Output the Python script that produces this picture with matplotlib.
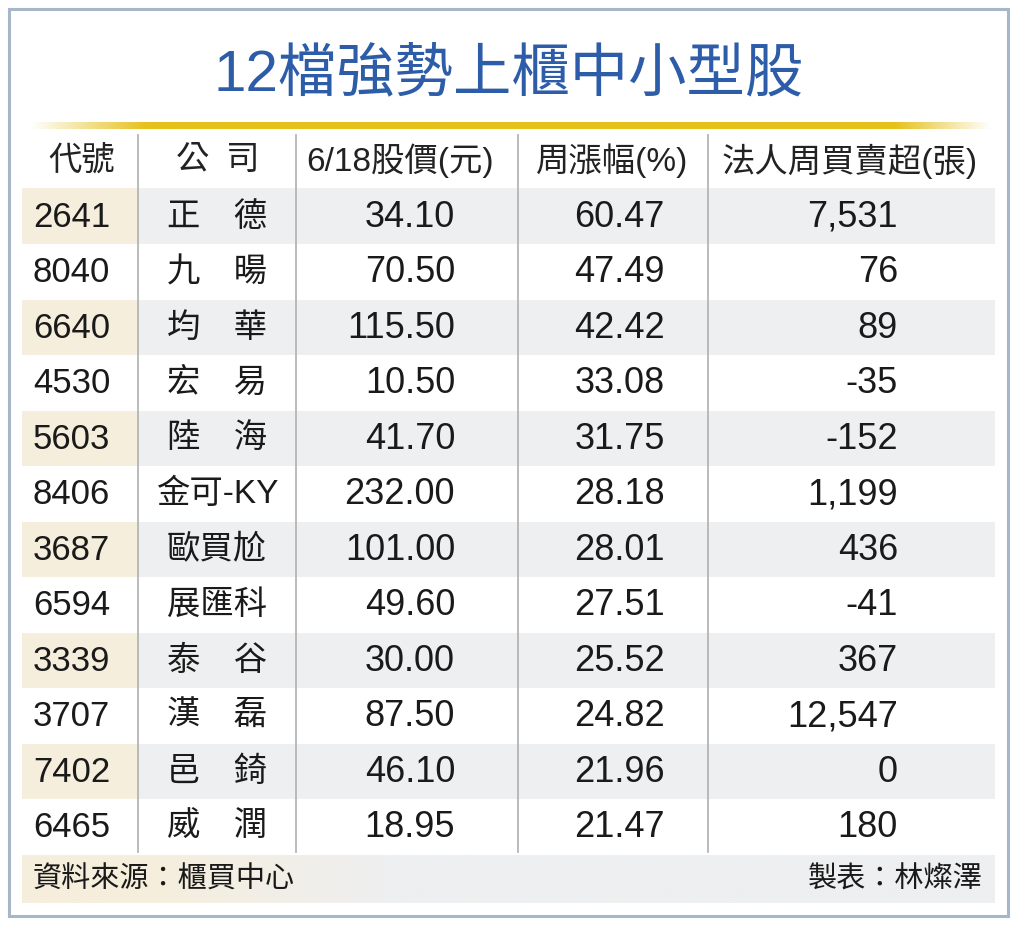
import numpy as np
import matplotlib
matplotlib.use('Agg')
import matplotlib.pyplot as plt
from matplotlib.patches import Rectangle
from matplotlib.colors import to_rgb

plt.rcParams['font.family'] = ['Liberation Sans', 'Noto Sans CJK TC', 'DejaVu Sans']

title = '12檔強勢上櫃中小型股'
headers = ['代號', '公\u2002司', '6/18股價(元)', '周漲幅(%)', '法人周買賣超(張)']
codes = ['2641', '8040', '6640', '4530', '5603', '8406',
         '3687', '6594', '3339', '3707', '7402', '6465']
names = ['正德', '九暘', '均華', '宏易', '陸海', '金可-KY',
         '歐買尬', '展匯科', '泰谷', '漢磊', '邑錡', '威潤']
prices = [34.10, 70.50, 115.50, 10.50, 41.70, 232.00,
          101.00, 49.60, 30.00, 87.50, 46.10, 18.95]
pct = [60.47, 47.49, 42.42, 33.08, 31.75, 28.18,
       28.01, 27.51, 25.52, 24.82, 21.96, 21.47]
net = [7531, 76, 89, -35, -152, 1199, 436, -41, 367, 12547, 0, 180]
source = '資料來源：櫃買中心'
maker = '製表：林燦澤'

W, H = 1024, 930
fig = plt.figure(figsize=(W / 100, H / 100), dpi=100)
ax = fig.add_axes([0, 0, 1, 1])

# outer frame
ax.add_patch(Rectangle((9, 9), 999, 907, fill=False, ec='#a8b6ca', lw=2.2))

ax.text(509, 75, title, ha='center', va='center', fontsize=42,
        color='#2d5ca8', fontweight='medium')

# gold rule that fades at both ends
gx = np.linspace(0, 1, 400)
alpha = np.clip(np.minimum(gx / 0.12, (1 - gx) / 0.1), 0, 1)
grad = np.zeros((1, 400, 4))
grad[..., :3] = to_rgb('#e6c11c')
grad[..., 3] = alpha
ax.imshow(grad, extent=(30, 992, 129, 122), aspect='auto', interpolation='bilinear', zorder=2)

left, right = 22, 995
col_sep = [138, 296, 518, 708]
row_top, row_h = 188.5, 55.5
n = len(codes)
gray = '#eeeff0'
beige = '#f6eedc'

# shaded bands
for i in range(0, n, 2):
    y0 = row_top + i * row_h
    ax.add_patch(Rectangle((left, y0), right - left, row_h, fc=gray, ec='none', zorder=1))
    ax.add_patch(Rectangle((left, y0), col_sep[0] - left, row_h, fc=beige, ec='none', zorder=1))

# footer band: beige on the left fading into gray
foot_y = row_top + n * row_h
fx = np.linspace(0, 1, 500)
mix = np.clip((fx - 0.12) / 0.25, 0, 1)[:, None]
fcol = (1 - mix) * np.array(to_rgb(beige)) + mix * np.array(to_rgb(gray))
ax.imshow(fcol[None, :, :], extent=(left, right, foot_y + 48, foot_y), aspect='auto',
          interpolation='bilinear', zorder=1)

for x in col_sep:
    ax.plot([x, x], [135, foot_y - 3], color='#b5b5b5', lw=1.3, zorder=2)

# header
hx = [82, 218, 400, 612, 850]
for x, h in zip(hx, headers):
    ax.text(x, 161, h, ha='center', va='center', fontsize=24, color='#222222', zorder=3)

num_fs = 26
for i in range(n):
    yc = row_top + (i + 0.5) * row_h + 1
    ax.text(33, yc, codes[i], ha='left', va='center', fontsize=25, color='#1a1a1a', zorder=3)
    nm = names[i] if len(names[i]) != 2 else names[i][0] + '\u3000' + names[i][1]
    ax.text(217, yc, nm, ha='center', va='center', fontsize=24, color='#1a1a1a', zorder=3)
    ax.text(455, yc, f'{prices[i]:.2f}', ha='right', va='center', fontsize=num_fs, color='#1a1a1a', zorder=3)
    ax.text(665, yc, f'{pct[i]:.2f}', ha='right', va='center', fontsize=num_fs, color='#1a1a1a', zorder=3)
    ax.text(898, yc, f'{net[i]:,}', ha='right', va='center', fontsize=num_fs, color='#1a1a1a', zorder=3)

ax.text(33, foot_y + 25, source, ha='left', va='center', fontsize=21, color='#1a1a1a', zorder=3)
ax.text(983, foot_y + 25, maker, ha='right', va='center', fontsize=21, color='#1a1a1a', zorder=3)

ax.set_xlim(0, W)
ax.set_ylim(H, 0)
ax.axis('off')

fig.savefig('out.png', dpi=100, facecolor='white')
